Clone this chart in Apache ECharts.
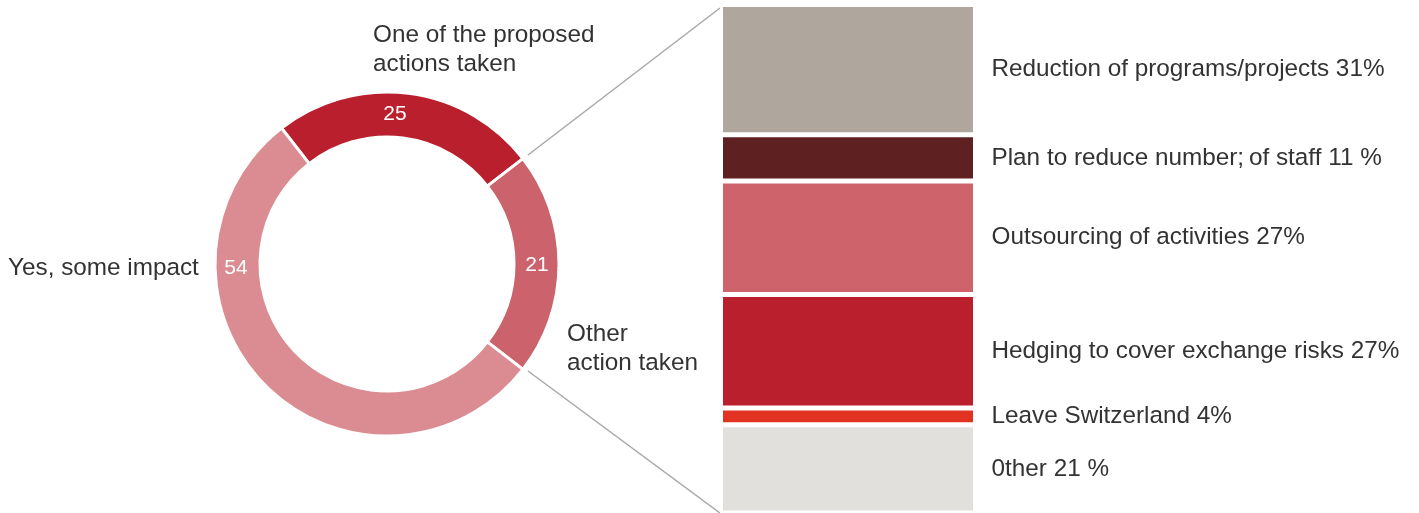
<!DOCTYPE html>
<html>
<head>
<meta charset="utf-8">
<title>Impact and actions taken</title>
<script src="https://cdn.jsdelivr.net/npm/echarts@6/dist/echarts.min.js"></script>
<style>
  html, body { margin: 0; padding: 0; background: #fff; }
  #chart { width: 1419px; height: 513px; }
</style>
</head>
<body>
<div id="chart"></div>
<script>
// Donut: share of respondents by reaction
const donutNames = ['One of the proposed\nactions taken', 'Other\naction taken', 'Yes, some impact'];
const donutValues = [25, 21, 54];
const donutColors = ['#BA1F2D', '#CC626B', '#DB8C92'];

// Stacked bar: breakdown of the actions taken (top to bottom)
const actionNames = [
  'Reduction of programs/projects',
  'Plan to reduce number;\u2009of staff',
  'Outsourcing of activities',
  'Hedging to cover exchange risks',
  'Leave Switzerland',
  '0ther'
];
const actionValues = [31, 11, 27, 27, 4, 21];
const actionSuffix = ['%', ' %', '%', '%', '%', ' %'];
const actionColors = ['#AFA69D', '#5F2022', '#CE636B', '#BA1F2D', '#E23222', '#E2E0DC'];

const FONT = '"Liberation Sans", Arial, sans-serif';
const TEXT = '#333333';

const chart = echarts.init(document.getElementById('chart'), null, { renderer: 'canvas' });

const total = actionValues.reduce((a, b) => a + b, 0);

const barSeries = actionNames.map((name, i) => ({
  name: name,
  type: 'bar',
  stack: 'actions',
  barWidth: '100%',
  silent: true,
  data: [actionValues[i]],
  itemStyle: { color: actionColors[i], borderColor: '#ffffff', borderWidth: 2.5 },
  label: {
    show: true,
    position: 'right',
    distance: 16,
    color: TEXT,
    fontFamily: FONT,
    fontSize: 24.3,
    formatter: (p) => name + ' ' + p.value + actionSuffix[i]
  }
}));

function txt(x, y, s, align) {
  return {
    type: 'text',
    x: x, y: y,
    silent: true,
    style: {
      text: s,
      fill: TEXT,
      font: '24.3px ' + FONT,
      align: align || 'left',
      verticalAlign: 'middle',
      lineHeight: 29
    }
  };
}

function valueText(x, y, v) {
  return {
    type: 'text', x: x, y: y, silent: true, z: 100,
    style: {
      text: String(v),
      fill: '#ffffff',
      font: '21px ' + FONT,
      align: 'center',
      verticalAlign: 'middle'
    }
  };
}

chart.setOption({
  animation: false,
  backgroundColor: '#ffffff',
  grid: { left: 720.5, top: 4.5, width: 255, height: 516 },
  xAxis: { type: 'category', data: ['actions'], show: false },
  yAxis: { type: 'value', min: 0, max: total, inverse: true, show: false },
  series: [
    {
      type: 'pie',
      center: [387, 264],
      radius: [127, 172],
      startAngle: 127.8,
      clockwise: true,
      silent: true,
      label: { show: false },
      labelLine: { show: false },
      itemStyle: { borderColor: '#ffffff', borderWidth: 3 },
      data: donutValues.map((v, i) => ({
        name: donutNames[i], value: v, itemStyle: { color: donutColors[i] }
      }))
    }
  ].concat(barSeries),
  graphic: [
    // connectors from the "action taken" arcs to the breakdown bar
    { type: 'line', silent: true, shape: { x1: 528, y1: 155, x2: 720, y2: 8 },
      style: { stroke: '#A8A8A8', lineWidth: 1.5 } },
    { type: 'line', silent: true, shape: { x1: 528, y1: 371, x2: 720, y2: 513 },
      style: { stroke: '#A8A8A8', lineWidth: 1.5 } },
    txt(373, 50, donutNames[0]),
    txt(567, 349, donutNames[1]),
    txt(8, 268, donutNames[2]),
    valueText(395, 114, donutValues[0]),
    valueText(537, 265, donutValues[1]),
    valueText(236, 268, donutValues[2])
  ]
});
</script>
</body>
</html>
